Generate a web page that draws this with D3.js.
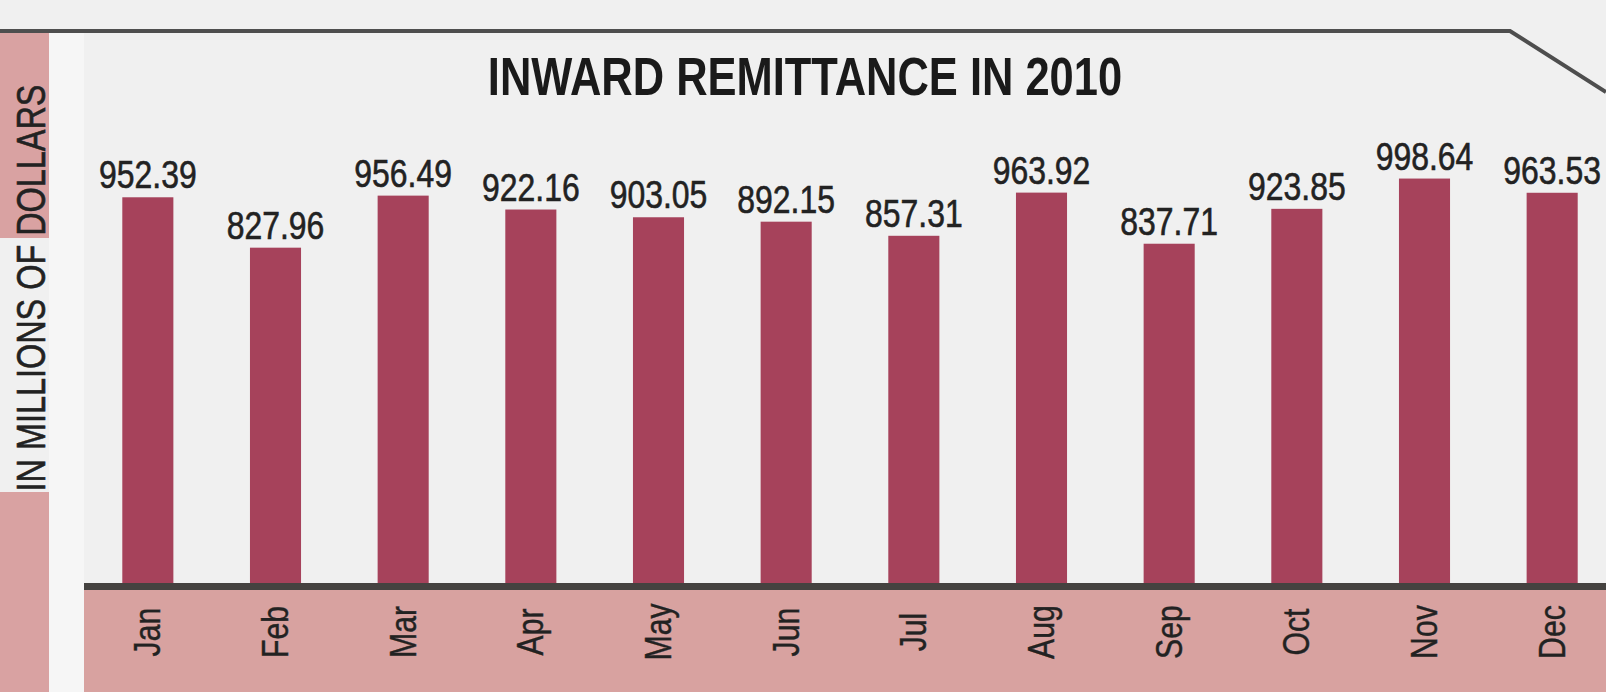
<html>
    <head>
        <style>
            body { margin: 0; background: #f0f0f0; }
            svg { display: block; }
            .narrow { font-family: 'Liberation Sans', Arial, sans-serif; }
        </style>
        <script src="https://cdnjs.cloudflare.com/ajax/libs/d3/7.8.5/d3.min.js"></script>
    </head>
    <body>
        <script>
            const months = ['Jan', 'Feb', 'Mar', 'Apr', 'May', 'Jun', 'Jul', 'Aug', 'Sep', 'Oct', 'Nov', 'Dec'];
            const remittance = [952.39, 827.96, 956.49, 922.16, 903.05, 892.15, 857.31, 963.92, 837.71, 923.85, 998.64, 963.53];
            const title = 'INWARD REMITTANCE IN 2010';
            const yLabel = 'IN MILLIONS OF DOLLARS';

            const width = 1606;
            const height = 692;
            const base = 583; // top of the axis bar

            // no narrow font installed, so squeeze the regular one
            function squeeze(sel, k) {
                sel.each(function () {
                    const w = this.getComputedTextLength();
                    d3.select(this)
                        .attr('textLength', w * k)
                        .attr('lengthAdjust', 'spacingAndGlyphs');
                });
            }

            const svg = d3.select('body').append('svg')
                .attr('width', width)
                .attr('height', height);

            // background pieces
            svg.append('rect').attr('x', 0).attr('y', 0).attr('width', width).attr('height', height).attr('fill', '#f0f0f0');
            svg.append('rect').attr('x', 49).attr('y', 33).attr('width', 35).attr('height', height - 33).attr('fill', '#f6f6f6');
            svg.append('rect').attr('x', 0).attr('y', 33).attr('width', 49).attr('height', 205).attr('fill', '#d9a2a2');
            svg.append('rect').attr('x', 0).attr('y', 492).attr('width', 49).attr('height', height - 492).attr('fill', '#d9a2a2');
            svg.append('rect').attr('x', 84).attr('y', base).attr('width', width - 84).attr('height', height - base).attr('fill', '#d8a2a0');

            // frame line on top
            svg.append('path')
                .attr('d', 'M0,31 L1510,31 L1606,92')
                .attr('fill', 'none')
                .attr('stroke', '#4e4e4e')
                .attr('stroke-width', 4);

            const x = d3.scaleBand()
                .domain(months)
                .range([84, 1616])
                .paddingInner(0.6)
                .paddingOuter(0.3);

            const y = d3.scaleLinear()
                .domain([0, 1000])
                .range([base, 178]);

            const data = months.map((m, i) => ({ month: m, value: remittance[i] }));

            svg.selectAll('.bar')
                .data(data)
                .enter().append('rect')
                .attr('class', 'bar')
                .attr('x', d => x(d.month))
                .attr('y', d => y(d.value))
                .attr('width', x.bandwidth())
                .attr('height', d => base - y(d.value))
                .attr('fill', '#a6425b');

            svg.selectAll('.val')
                .data(data)
                .enter().append('text')
                .attr('class', 'val narrow')
                .attr('x', d => x(d.month) + x.bandwidth() / 2)
                .attr('y', d => y(d.value) - 9)
                .attr('text-anchor', 'middle')
                .attr('font-size', 38)
                .attr('fill', '#222')
                .attr('stroke', '#222')
                .attr('stroke-width', 0.6)
                .text(d => d.value.toFixed(2))
                .call(squeeze, 0.84);

            // axis bar
            svg.append('rect')
                .attr('x', 84).attr('y', base)
                .attr('width', width - 84).attr('height', 7)
                .attr('fill', '#454240');

            const xAxis = svg.append('g')
                .attr('transform', `translate(0, 632)`)
                .call(d3.axisBottom(x).tickSize(0).tickPadding(0));
            xAxis.select('.domain').remove();
            xAxis.selectAll('text')
                .attr('class', 'narrow')
                .attr('font-family', null)
                .attr('font-size', 36)
                .attr('fill', '#222')
                .attr('stroke', '#222')
                .attr('stroke-width', 0.4)
                .attr('transform', 'rotate(-90)')
                .attr('x', 0)
                .attr('y', 0)
                .attr('dy', '0.35em')
                .attr('text-anchor', 'middle')
                .call(squeeze, 0.84);

            svg.append('text')
                .attr('class', 'narrow')
                .attr('x', 805)
                .attr('y', 95)
                .attr('text-anchor', 'middle')
                .attr('font-size', 53)
                .attr('font-weight', 'bold')
                .attr('fill', '#1a1a1a')
                .text(title)
                .call(squeeze, 0.82);

            svg.append('text')
                .attr('class', 'narrow')
                .attr('transform', 'translate(45, 288) rotate(-90)')
                .attr('text-anchor', 'middle')
                .attr('font-size', 40)
                .attr('fill', '#222')
                .attr('stroke', '#222')
                .attr('stroke-width', 0.6)
                .text(yLabel)
                .call(squeeze, 0.81);
        </script>
    </body>
</html>
